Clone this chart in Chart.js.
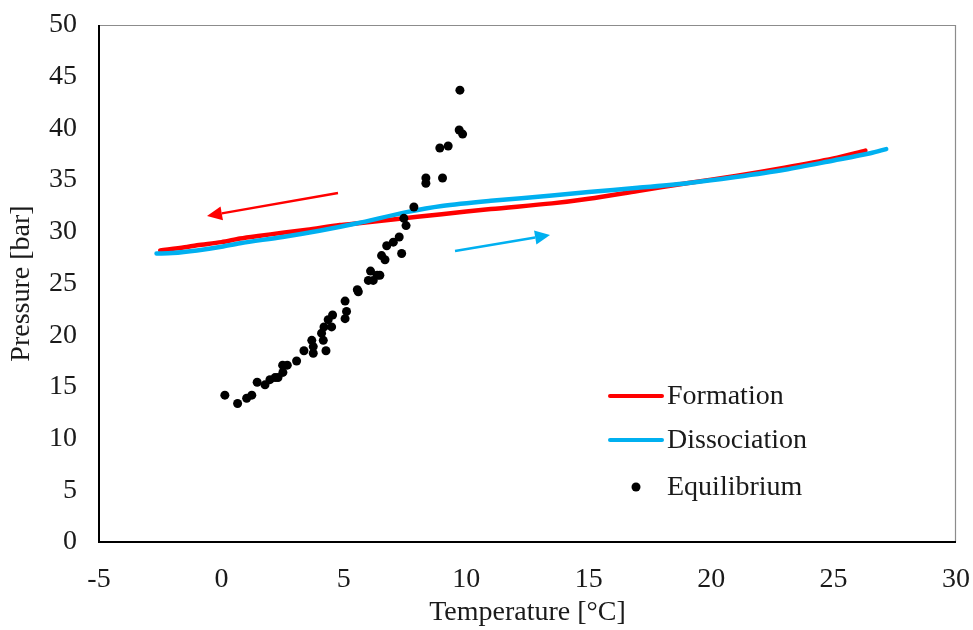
<!DOCTYPE html>
<html>
<head>
<meta charset="utf-8">
<script src="https://cdn.jsdelivr.net/npm/chart.js@4.4.0/dist/chart.umd.min.js"></script>
<style>
html, body { margin: 0; padding: 0; background: #fff; }
</style>
</head>
<body>
<canvas id="hydrateChart" width="973" height="630"></canvas>
<script>
// Formation (cooling) curve
const formationT = [-2.5, -1.5, -1, 0, 0.76, 1.5, 2.5, 3.5, 4.84, 5.5, 7, 9, 11, 13.5, 15, 17, 19, 21, 23, 25, 26.3];
const formationP = [28.2, 28.5, 28.7, 29.0, 29.35, 29.6, 29.9, 30.2, 30.65, 30.8, 31.2, 31.7, 32.2, 32.75, 33.2, 33.95, 34.7, 35.4, 36.2, 37.1, 37.85];

// Dissociation (heating) curve
const dissociationT = [-2.65, -2, -1, 0, 0.76, 2.5, 4, 5.5, 7.56, 9, 11, 13.5, 15, 17, 19, 21, 23, 25, 26.5, 27.15];
const dissociationP = [27.9, 27.95, 28.2, 28.55, 28.9, 29.5, 30.1, 30.8, 31.9, 32.5, 33.0, 33.5, 33.85, 34.25, 34.7, 35.3, 36.0, 36.9, 37.6, 38.0];

// Equilibrium points
const equilibriumT = [0.14, 0.66, 1.03, 1.24, 1.46, 1.78, 1.98, 2.19, 2.31, 2.51, 2.50, 2.69, 3.07, 3.37, 3.75, 3.75, 3.69, 4.16, 4.27, 4.09,
                      4.19, 4.36, 4.54, 4.50, 5.05, 5.11, 5.05, 5.55, 5.59, 6.0, 6.09, 6.2, 6.36, 6.47, 6.54, 6.68, 6.75, 7.02, 7.26, 7.36,
                      7.45, 7.54, 7.86, 8.35, 8.35, 9.03, 8.92, 9.26, 9.71, 9.85, 9.74];
const equilibriumP = [14.2, 13.4, 13.9, 14.2, 15.45, 15.2, 15.7, 15.9, 15.9, 16.4, 17.1, 17.1, 17.5, 18.5, 18.9, 18.25, 19.5, 19.5, 18.5, 20.2,
                      20.8, 21.5, 21.95, 20.8, 23.3, 22.3, 21.6, 24.4, 24.2, 25.3, 26.2, 25.3, 25.8, 25.8, 27.7, 27.3, 28.65, 29.0, 29.5, 27.9,
                      31.3, 30.6, 32.4, 35.2, 34.7, 35.2, 38.1, 38.3, 39.85, 39.45, 43.7];

// Arrow annotations [tailT, tailP, tipT, tipP]
const coolingArrow = [4.76, 33.75, -0.59, 31.53];
const heatingArrow = [9.54, 28.14, 13.42, 29.69];

const xTicks = [-5, 0, 5, 10, 15, 20, 25, 30];
const yTicks = [0, 5, 10, 15, 20, 25, 30, 35, 40, 45, 50];

const seriesNames = ['Formation', 'Dissociation', 'Equilibrium'];
const seriesColors = ['#ff0000', '#00b0f0', '#000000'];

const fontFamily = '"Liberation Serif", "Times New Roman", serif';
const fontSize = 28;
const textColor = '#1a1a1a';

function toPoints(xs, ys) {
    return xs.map((x, i) => ({ x: x, y: ys[i] }));
}

function drawArrow(ctx, chart, arr, color) {
    const xs = chart.scales.x, ys = chart.scales.y;
    const x1 = xs.getPixelForValue(arr[0]), y1 = ys.getPixelForValue(arr[1]);
    const x2 = xs.getPixelForValue(arr[2]), y2 = ys.getPixelForValue(arr[3]);
    const ang = Math.atan2(y2 - y1, x2 - x1);
    const headLen = 15, headW = 7;
    const bx = x2 - headLen * Math.cos(ang), by = y2 - headLen * Math.sin(ang);
    ctx.save();
    ctx.strokeStyle = color;
    ctx.fillStyle = color;
    ctx.lineWidth = 2.5;
    ctx.beginPath();
    ctx.moveTo(x1, y1);
    ctx.lineTo(bx, by);
    ctx.stroke();
    ctx.beginPath();
    ctx.moveTo(x2, y2);
    ctx.lineTo(bx + headW * Math.sin(ang), by - headW * Math.cos(ang));
    ctx.lineTo(bx - headW * Math.sin(ang), by + headW * Math.cos(ang));
    ctx.closePath();
    ctx.fill();
    ctx.restore();
}

// Frame, arrows and in-plot legend
const decorPlugin = {
    id: 'decor',
    afterDatasetsDraw(chart) {
        const ctx = chart.ctx;
        const a = chart.chartArea;
        drawArrow(ctx, chart, coolingArrow, seriesColors[0]);
        drawArrow(ctx, chart, heatingArrow, seriesColors[1]);

        ctx.save();
        // top & right box edges (grey)
        ctx.strokeStyle = '#8c8c8c';
        ctx.lineWidth = 1.2;
        ctx.beginPath();
        ctx.moveTo(a.left, a.top + 0.5);
        ctx.lineTo(a.right - 0.5, a.top + 0.5);
        ctx.lineTo(a.right - 0.5, a.bottom);
        ctx.stroke();
        // axes (black)
        ctx.strokeStyle = '#000';
        ctx.lineWidth = 2;
        ctx.beginPath();
        ctx.moveTo(a.left, a.top);
        ctx.lineTo(a.left, a.bottom);
        ctx.lineTo(a.right, a.bottom);
        ctx.stroke();

        // legend
        const lx0 = a.left + 511, lx1 = a.left + 563, tx = a.left + 568;
        const rows = [a.top + 371, a.top + 415, a.top + 462];
        ctx.font = fontSize + 'px ' + fontFamily;
        ctx.textBaseline = 'middle';
        ctx.textAlign = 'left';
        seriesNames.forEach((name, i) => {
            const y = rows[i];
            if (i < 2) {
                ctx.strokeStyle = seriesColors[i];
                ctx.lineWidth = 4;
                ctx.lineCap = 'round';
                ctx.beginPath();
                ctx.moveTo(lx0, y);
                ctx.lineTo(lx1, y);
                ctx.stroke();
            } else {
                ctx.fillStyle = seriesColors[i];
                ctx.beginPath();
                ctx.arc((lx0 + lx1) / 2, y, 4.5, 0, Math.PI * 2);
                ctx.fill();
            }
            ctx.fillStyle = textColor;
            ctx.fillText(name, tx, y + 1);
        });
        ctx.restore();
    }
};

const ctx = document.getElementById('hydrateChart').getContext('2d');

new Chart(ctx, {
    type: 'scatter',
    data: {
        datasets: [
            {
                label: seriesNames[2],
                data: toPoints(equilibriumT, equilibriumP),
                backgroundColor: seriesColors[2],
                borderColor: seriesColors[2],
                pointRadius: 4.5,
                pointBorderWidth: 0,
                showLine: false,
                order: 0
            },
            {
                label: seriesNames[1],
                data: toPoints(dissociationT, dissociationP),
                borderColor: seriesColors[1],
                backgroundColor: seriesColors[1],
                borderWidth: 4.5,
                pointRadius: 0,
                showLine: true,
                tension: 0.3,
                borderCapStyle: 'round',
                order: 1
            },
            {
                label: seriesNames[0],
                data: toPoints(formationT, formationP),
                borderColor: seriesColors[0],
                backgroundColor: seriesColors[0],
                borderWidth: 4.5,
                pointRadius: 0,
                showLine: true,
                tension: 0.3,
                borderCapStyle: 'round',
                order: 2
            }
        ]
    },
    options: {
        responsive: false,
        animation: false,
        devicePixelRatio: 1,
        layout: {
            padding: { top: 25, right: 17, left: 0, bottom: 0 }
        },
        plugins: {
            legend: { display: false },
            tooltip: { enabled: false }
        },
        scales: {
            x: {
                type: 'linear',
                min: -5,
                max: 30,
                afterBuildTicks: (scale) => { scale.ticks = xTicks.map(v => ({ value: v })); },
                afterFit: (scale) => {
                    scale.height = 88;
                    scale.paddingLeft = 0;
                    scale.paddingRight = 0;
                },
                ticks: {
                    color: textColor,
                    font: { family: fontFamily, size: fontSize },
                    padding: 21
                },
                grid: { display: false, drawTicks: false },
                border: { display: false },
                title: {
                    display: true,
                    text: 'Temperature [°C]',
                    color: textColor,
                    font: { family: fontFamily, size: fontSize },
                    padding: { top: 0, bottom: 1 }
                }
            },
            y: {
                type: 'linear',
                min: 0,
                max: 50,
                afterBuildTicks: (scale) => { scale.ticks = yTicks.map(v => ({ value: v })); },
                afterFit: (scale) => {
                    scale.width = 99;
                    scale.paddingTop = 0;
                    scale.paddingBottom = 0;
                },
                ticks: {
                    color: textColor,
                    font: { family: fontFamily, size: fontSize },
                    padding: 22
                },
                grid: { display: false, drawTicks: false },
                border: { display: false },
                title: {
                    display: true,
                    text: 'Pressure [bar]',
                    color: textColor,
                    font: { family: fontFamily, size: fontSize },
                    padding: { top: 5, bottom: 0 }
                }
            }
        }
    },
    plugins: [decorPlugin]
});
</script>
</body>
</html>
